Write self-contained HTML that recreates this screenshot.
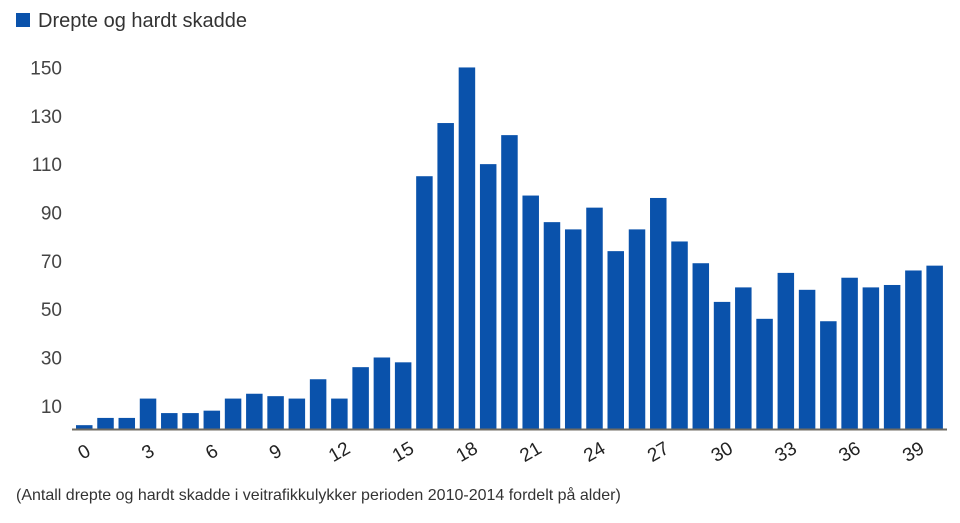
<!DOCTYPE html>
<html><head><meta charset="utf-8"><style>
body{margin:0;background:#fff;width:960px;height:518px;overflow:hidden;font-family:"Liberation Sans",sans-serif}
</style></head><body>
<svg id="chart" width="960" height="518" xmlns="http://www.w3.org/2000/svg">
<defs><clipPath id="clip"><rect x="0" y="58" width="960" height="460"/></clipPath></defs>
<rect x="16" y="13" width="14" height="14" fill="#0a52ab"/>
<text x="38" y="27" font-size="20" fill="#333">Drepte og hardt skadde</text>
<g id="yaxis" clip-path="url(#clip)"></g>
<g id="bars"></g>
<line x1="72" y1="429.5" x2="947" y2="429.5" stroke="#6e6a60" stroke-width="2"/>
<g id="xaxis"></g>
<text x="16" y="500" font-size="16" fill="#333">(Antall drepte og hardt skadde i veitrafikkulykker perioden 2010-2014 fordelt på alder)</text>
</svg>
<script>
const ages = [0,1,2,3,4,5,6,7,8,9,10,11,12,13,14,15,16,17,18,19,20,21,22,23,24,25,26,27,28,29,30,31,32,33,34,35,36,37,38,39,40];
const values = [2,5,5,13,7,7,8,13,15,14,13,21,13,26,30,28,105,127,150,110,122,97,86,83,92,74,83,96,78,69,53,59,46,65,58,45,63,59,60,66,68];
const yTicks = [10,30,50,70,90,110,130,150];
const xTickAges = [0,3,6,9,12,15,18,21,24,27,30,33,36,39];
const NS="http://www.w3.org/2000/svg";
const y0=430, k=2.417, x0=76, step=21.26, bw=16.5;
const y=v=>y0-v*k, x=i=>x0+i*step;
const bars=document.getElementById('bars'), ya=document.getElementById('yaxis'), xa=document.getElementById('xaxis');
values.forEach((v,i)=>{
  const r=document.createElementNS(NS,'rect');
  r.setAttribute('x',x(i));r.setAttribute('y',y(v));r.setAttribute('width',bw);r.setAttribute('height',y0-y(v)-1);
  r.setAttribute('fill','#0a52ab');
  
  
  bars.appendChild(r);
});
yTicks.forEach(t=>{
  const e=document.createElementNS(NS,'text');
  e.setAttribute('x',62);e.setAttribute('y',y(t)+7);e.setAttribute('text-anchor','end');
  e.setAttribute('font-size','19');e.setAttribute('fill','#444');e.textContent=t;
  
  
  ya.appendChild(e);
});
xTickAges.forEach(a=>{
  const i=ages.indexOf(a);const cx=x(i)+bw/2, cy=458;
  const e=document.createElementNS(NS,'text');
  e.setAttribute('x',cx);e.setAttribute('y',cy);e.setAttribute('text-anchor','middle');
  e.setAttribute('font-size','19');e.setAttribute('fill','#222');
  e.setAttribute('transform','rotate(-30 '+cx+' '+(cy-6)+')');e.textContent=a;
  
  
  xa.appendChild(e);
});
</script>
</body></html>
